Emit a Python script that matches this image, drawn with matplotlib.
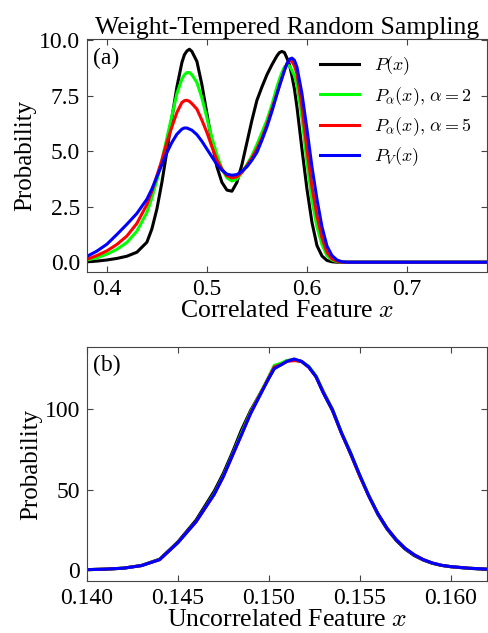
import matplotlib
matplotlib.use("Agg")
import matplotlib.pyplot as plt

plt.rcParams["font.family"] = ["Liberation Serif", "DejaVu Serif"]
plt.rcParams["mathtext.fontset"] = "cm"
plt.rcParams["font.size"] = 17
plt.rcParams["xtick.direction"] = "in"
plt.rcParams["ytick.direction"] = "in"
plt.rcParams["xtick.top"] = True
plt.rcParams["ytick.right"] = True

# panel (a): correlated feature
x_a = [0.38, 0.39, 0.40, 0.41, 0.42, 0.43, 0.44, 0.445, 0.45, 0.455, 0.46, 0.465,
       0.47, 0.475, 0.4775, 0.48, 0.4825, 0.485, 0.49, 0.495, 0.50, 0.505, 0.51,
       0.515, 0.52, 0.525, 0.53, 0.535, 0.54, 0.545, 0.55, 0.555, 0.56, 0.565,
       0.57, 0.5725, 0.575, 0.5775, 0.58, 0.5825, 0.585, 0.5875, 0.59, 0.595,
       0.60, 0.605, 0.61, 0.615, 0.62, 0.625, 0.63, 0.635, 0.64, 0.66, 0.70,
       0.74, 0.78]
p_black = [0.02, 0.05, 0.1, 0.17, 0.27, 0.45, 0.9, 1.5, 2.4, 3.6, 5.0, 6.5,
           7.9, 9.0, 9.35, 9.52, 9.6, 9.5, 9.05, 8.0, 6.7, 5.4, 4.3,
           3.6, 3.25, 3.2, 3.6, 4.4, 5.4, 6.4, 7.3, 7.9, 8.45, 8.9,
           9.3, 9.45, 9.5, 9.45, 9.2, 8.9, 8.4, 7.8, 7.0, 5.1,
           3.3, 1.8, 0.75, 0.28, 0.08, 0.02, 0.0, 0.0, 0.0, 0.0, 0.0,
           0.0, 0.0]
p_a2 = [0.1, 0.2, 0.36, 0.58, 0.89, 1.4, 2.24, 2.9, 3.7, 4.6, 5.6, 6.6,
        7.6, 8.25, 8.45, 8.55, 8.55, 8.45, 8.1, 7.4, 6.5, 5.6, 4.85,
        4.2, 3.8, 3.66, 3.75, 4.05, 4.4, 4.8, 5.3, 5.85, 6.4, 7.1,
        7.9, 8.25, 8.55, 8.8, 8.9, 8.85, 8.65, 8.4, 8.0, 6.5,
        4.5, 2.8, 1.6, 0.8, 0.3, 0.1, 0.03, 0.0, 0.0, 0.0, 0.0,
        0.0, 0.0]
p_a5 = [0.13, 0.3, 0.51, 0.8, 1.18, 1.75, 2.6, 3.2, 3.9, 4.6, 5.4, 6.1,
        6.75, 7.2, 7.28, 7.3, 7.25, 7.15, 6.9, 6.4, 5.85, 5.2, 4.6,
        4.2, 3.9, 3.8, 3.85, 4.05, 4.35, 4.7, 5.1, 5.6, 6.2, 6.9,
        7.6, 7.95, 8.3, 8.65, 8.95, 9.1, 9.05, 8.85, 8.5, 7.0,
        5.1, 3.4, 2.1, 1.1, 0.45, 0.15, 0.05, 0.0, 0.0, 0.0, 0.0,
        0.0, 0.0]
p_v = [0.26, 0.5, 0.81, 1.25, 1.71, 2.2, 2.84, 3.3, 3.85, 4.4, 4.94, 5.4,
       5.77, 6.0, 6.05, 6.05, 6.0, 5.95, 5.75, 5.45, 5.1, 4.75, 4.4,
       4.15, 3.97, 3.92, 3.95, 4.1, 4.3, 4.6, 4.95, 5.5, 6.1, 6.8,
       7.57, 7.95, 8.3, 8.65, 8.95, 9.15, 9.2, 9.1, 8.8, 7.6,
       6.0, 4.3, 2.84, 1.6, 0.73, 0.3, 0.1, 0.02, 0.0, 0.0, 0.0,
       0.0, 0.0]

# panel (b): uncorrelated feature
x_b = [0.140, 0.141, 0.142, 0.143, 0.144, 0.145, 0.146, 0.147, 0.1475, 0.148,
       0.1485, 0.149, 0.1495, 0.150, 0.1503, 0.1507, 0.151, 0.1514, 0.1518, 0.1522,
       0.1526, 0.153, 0.1535, 0.154, 0.1545, 0.155, 0.1555, 0.156, 0.1565, 0.157,
       0.1575, 0.158, 0.1585, 0.159, 0.1595, 0.160, 0.161, 0.162]
u_black = [0.3, 0.6, 1.2, 2.9, 6.8, 17.5, 31, 49, 60, 73,
           87, 99, 109, 119, 125, 128, 130, 130.5, 129.5, 126,
           120, 110, 99, 85, 72, 58.5, 46, 34.5, 25.5, 18.5,
           13, 9, 6.2, 4.2, 2.9, 2.1, 1.1, 0.5]
u_a2 = [0.3, 0.6, 1.2, 2.8, 6.6, 17, 30, 47.5, 58.5, 71.5,
        85, 98, 109, 120, 127, 128.5, 130, 130.3, 129.5, 126.5,
        120.5, 111, 100, 85.5, 73, 59, 46.5, 35, 26, 19,
        13.5, 9.5, 6.5, 4.4, 3, 2.2, 1.2, 0.6]
u_a5 = [0.3, 0.6, 1.2, 2.8, 6.5, 17, 30, 47, 58, 71,
        84, 97.5, 108.5, 119.5, 126, 127.5, 129.5, 130, 129.5, 126,
        120, 110.5, 99.5, 85, 72.5, 58.5, 46, 35, 26, 19,
        13.5, 9.5, 6.5, 4.4, 3, 2.2, 1.2, 0.6]
u_v = [0.3, 0.6, 1.2, 2.8, 6.5, 17, 30, 47, 58, 71,
       84, 97, 108, 119, 125, 127.5, 129.5, 131, 129.5, 126,
       120, 110, 99.5, 85, 72.5, 59, 46, 35, 26, 19,
       13.5, 9.5, 6.5, 4.4, 3, 2.2, 1.2, 0.6]

colors = ["black", "#00ff00", "red", "blue"]
labels = [r"$P(x)$", r"$P_\alpha(x),\, \alpha=2$", r"$P_\alpha(x),\, \alpha=5$", r"$P_V(x)$"]

fig = plt.figure(figsize=(4.88, 6.33), dpi=100)
ax1 = fig.add_axes([0.178, 0.570, 0.820, 0.368])
ax2 = fig.add_axes([0.178, 0.082, 0.820, 0.370])

for y, c, lab in zip([p_black, p_a2, p_a5, p_v], colors, labels):
    ax1.plot(x_a, y, color=c, lw=2.2, label=lab)
for y, c in zip([u_black, u_a2, u_a5, u_v], colors):
    ax2.plot(x_b, y, color=c, lw=2.2)

ax1.set_xlim(0.38, 0.78)
ax1.set_ylim(-0.45, 10.05)
ax1.set_xticks([0.4, 0.5, 0.6, 0.7])
ax1.set_yticks([0.0, 2.5, 5.0, 7.5, 10.0])
ax1.set_xlabel(r"Correlated Feature $x$", fontsize=18.5, labelpad=0)
ax1.set_ylabel("Probability", fontsize=18, labelpad=2)
ax1.set_title("Weight-Tempered Random Sampling", fontsize=18.5, pad=4)
ax1.text(0.015, 0.965, "(a)", transform=ax1.transAxes, va="top", ha="left")
ax1.legend(loc="upper right", frameon=False, fontsize=13, handlelength=2.2,
           labelspacing=0.42, borderaxespad=0.45)

ax2.set_xlim(0.140, 0.162)
ax2.set_ylim(-6.8, 138.5)
ax2.set_xticks([0.140, 0.145, 0.150, 0.155, 0.160])
ax2.set_xticklabels(["0.140", "0.145", "0.150", "0.155", "0.160"])
ax2.set_yticks([0, 50, 100])
ax2.set_xlabel(r"Uncorrelated Feature $x$", fontsize=18.5, labelpad=0)
ax2.set_ylabel("Probability", fontsize=18, labelpad=2)
ax2.text(0.015, 0.965, "(b)", transform=ax2.transAxes, va="top", ha="left")

for ax in (ax1, ax2):
    ax.tick_params(length=4, width=0.8, pad=5, color="#444444")
    for s in ax.spines.values():
        s.set_color("#444444")

fig.savefig("out.png", dpi=100)
